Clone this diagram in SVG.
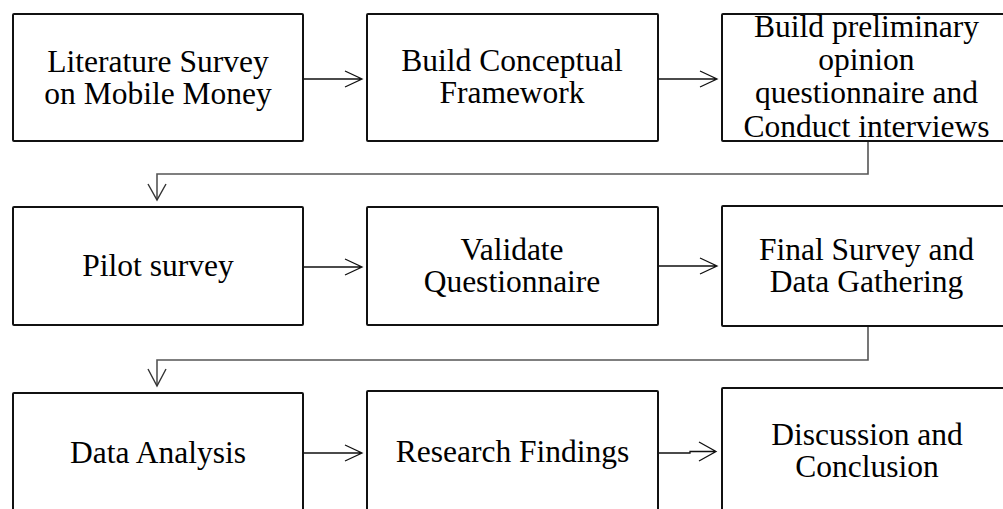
<svg xmlns="http://www.w3.org/2000/svg" width="1003" height="509" viewBox="0 0 1003 509">
  <style>
    .box { fill: #ffffff; stroke: #111111; stroke-width: 2; }
    .lbl { font-family: "Liberation Serif", "Times New Roman", serif; font-size: 31.5px; fill: #000000; text-anchor: middle; }
    .arrow { fill: none; stroke: #111111; stroke-width: 1.3; }
    .elbow { fill: none; stroke: #555555; stroke-width: 1.6; }
    .head { fill: none; stroke: #333333; stroke-width: 1.4; }
  </style>
  <rect width="1003" height="509" fill="#ffffff"/>

  <!-- connectors -->
  <g id="connectors">
    <!-- row 1 -->
    <path class="arrow" d="M303,79 H362 M345,71 L362,79 L345,87"/>
    <path class="arrow" d="M658,79 H717 M700,71 L717,79 L700,87"/>
    <!-- row 1 to row 2 -->
    <path class="elbow" d="M868,141 V174 H157 V199"/>
    <path class="head" d="M148,184 L157,200 L166,184"/>
    <!-- row 2 -->
    <path class="arrow" d="M303,267 H362 M345,259 L362,267 L345,275"/>
    <path class="arrow" d="M658,266 H717 M700,258 L717,266 L700,274"/>
    <!-- row 2 to row 3 -->
    <path class="elbow" d="M868,326 V360 H157 V385"/>
    <path class="head" d="M148,369 L157,386 L166,369"/>
    <!-- row 3 -->
    <path class="arrow" d="M303,453 H362 M345,445 L362,453 L345,461"/>
    <path class="arrow" d="M658,453 H690 V451.5 H716 M699,442 L716,451.5 L699,461"/>
  </g>

  <g id="n1">
    <rect class="box" x="13" y="14" width="290" height="127" rx="1"/>
    <text class="lbl" x="158" y="71.5">Literature Survey</text>
    <text class="lbl" x="158" y="103.5">on Mobile Money</text>
  </g>
  <g id="n2">
    <rect class="box" x="367" y="14" width="291" height="127" rx="1"/>
    <text class="lbl" x="512" y="70.5">Build Conceptual</text>
    <text class="lbl" x="512" y="103">Framework</text>
  </g>
  <g id="n3">
    <rect class="box" x="722" y="14" width="290" height="127" rx="1"/>
    <text class="lbl" x="866.5" y="36.5">Build preliminary</text>
    <text class="lbl" x="866.5" y="70">opinion</text>
    <text class="lbl" x="866.5" y="103">questionnaire and</text>
    <text class="lbl" x="866.5" y="136.5">Conduct interviews</text>
  </g>

  <g id="n4">
    <rect class="box" x="13" y="207" width="290" height="118" rx="1"/>
    <text class="lbl" x="158" y="276">Pilot survey</text>
  </g>
  <g id="n5">
    <rect class="box" x="367" y="207" width="291" height="118" rx="1"/>
    <text class="lbl" x="512" y="260">Validate</text>
    <text class="lbl" x="512" y="292">Questionnaire</text>
  </g>
  <g id="n6">
    <rect class="box" x="722" y="206" width="290" height="120" rx="1"/>
    <text class="lbl" x="866.5" y="260">Final Survey and</text>
    <text class="lbl" x="866.5" y="292">Data Gathering</text>
  </g>

  <g id="n7">
    <rect class="box" x="13" y="393" width="290" height="130" rx="1"/>
    <text class="lbl" x="158" y="463">Data Analysis</text>
  </g>
  <g id="n8">
    <rect class="box" x="367" y="391" width="291" height="130" rx="1"/>
    <text class="lbl" x="512.5" y="462">Research Findings</text>
  </g>
  <g id="n9">
    <rect class="box" x="722" y="388" width="290" height="130" rx="1"/>
    <text class="lbl" x="867" y="445">Discussion and</text>
    <text class="lbl" x="867" y="477">Conclusion</text>
  </g>
</svg>
